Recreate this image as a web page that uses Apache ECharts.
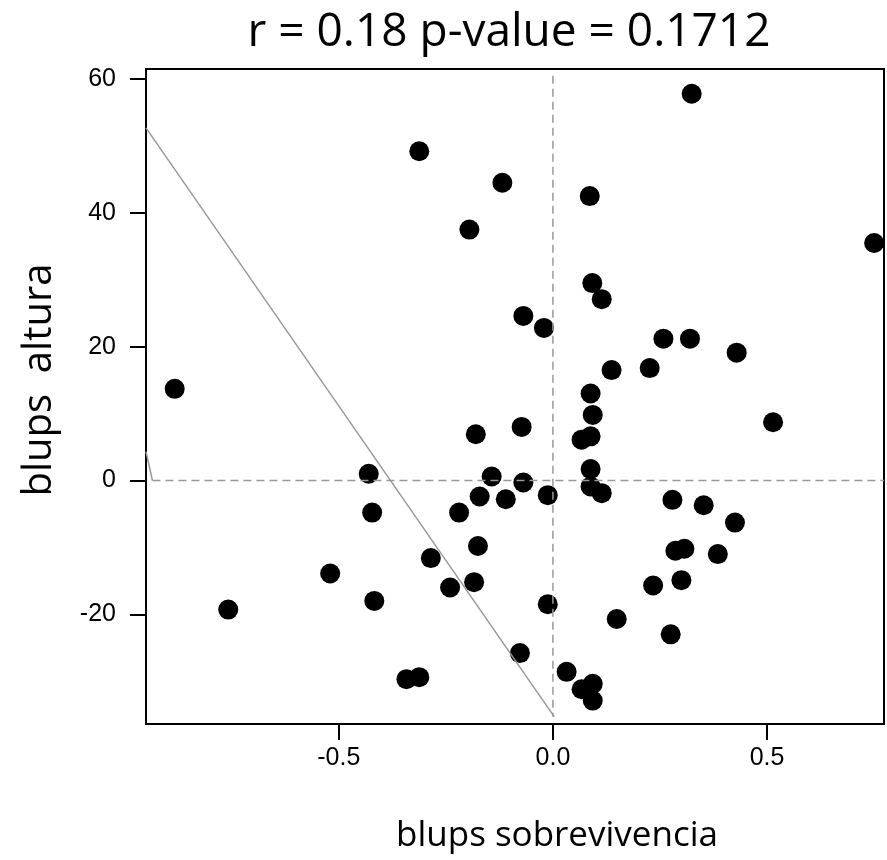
<!DOCTYPE html>
<html>
<head>
<meta charset="utf-8">
<script src="https://cdn.jsdelivr.net/npm/echarts@6/dist/echarts.min.js"></script>
<style>
  html, body { margin: 0; padding: 0; background: #fff; }
  #chart { width: 887px; height: 860px; }
</style>
</head>
<body>
<div id="chart"></div>
<script>
// blups sobrevivencia (x) vs blups altura (y)
const sobrevivencia = [
  -0.312, -0.118, -0.195, -0.069, -0.021, -0.883, 0.086, 0.324, 0.750, 0.092,
  0.114, 0.258, 0.320, 0.429, 0.137, 0.226, 0.088, 0.093, -0.073, 0.514,
  0.067, 0.088, 0.088, -0.069, -0.110, -0.012, 0.088, 0.114, 0.279, 0.352,
  0.425, 0.286, 0.307, 0.385, 0.234, 0.300, -0.012, 0.149, 0.275, -0.077,
  0.032, 0.067, 0.093, 0.093, -0.180, -0.430, -0.143, -0.171, -0.422, -0.219,
  -0.175, -0.285, -0.520, -0.184, -0.240, -0.417, -0.758, -0.342, -0.312
];
const altura = [
  49.2, 44.5, 37.5, 24.6, 22.8, 13.7, 42.5, 57.8, 35.5, 29.5,
  27.1, 21.2, 21.2, 19.1, 16.5, 16.8, 13.0, 9.8, 8.0, 8.7,
  6.1, 6.6, 1.7, -0.3, -2.8, -2.2, -0.9, -1.9, -2.9, -3.7,
  -6.3, -10.5, -10.2, -11.0, -15.7, -14.9, -18.5, -20.7, -23.0, -25.8,
  -28.6, -31.2, -30.4, -32.9, 6.9, 1.0, 0.6, -2.4, -4.8, -4.8,
  -9.8, -11.6, -13.9, -15.2, -16.0, -18.0, -19.3, -29.7, -29.4
];

const xTicks = [-0.5, 0.0, 0.5];
const yTicks = [-20, 0, 20, 40, 60];

// grey reference lines (data space)
const trendX = [-0.95, 0.003];
const trendY = [52.7, -35.3];
const stubX = [-0.95, -0.935];
const stubY = [4.3, 0];
const hRefX = [-0.935, 0.773];
const hRefY = [0, 0];
const vRefX = [0, 0];
const vRefY = [60.5, -35.3];

const pairs = (a, b) => a.map((v, i) => [v, b[i]]);

const chart = echarts.init(document.getElementById('chart'));

const labelFont = 'Liberation Sans, Arial, sans-serif';
const textFont = 'Open Sans, Noto Sans, sans-serif';

chart.setOption({
  animation: false,
  backgroundColor: '#fff',
  grid: {
    left: 146, top: 69, width: 738, height: 655,
    show: true, borderColor: '#000', borderWidth: 2, backgroundColor: 'transparent'
  },
  xAxis: {
    type: 'value', min: -0.95, max: 0.773,
    splitLine: { show: false },
    axisLine: { show: false, onZero: false },
    axisTick: { show: true, inside: false, length: 16, customValues: xTicks,
      lineStyle: { color: '#000', width: 2 } },
    axisLabel: { customValues: xTicks, margin: 22, fontSize: 25,
      fontFamily: labelFont, color: '#000',
      formatter: v => v.toFixed(1) }
  },
  yAxis: {
    type: 'value', min: -36.4, max: 61.5,
    splitLine: { show: false },
    axisLine: { show: false, onZero: false },
    axisTick: { show: true, inside: false, length: 16, customValues: yTicks,
      lineStyle: { color: '#000', width: 2 } },
    axisLabel: { customValues: yTicks, margin: 30, fontSize: 25,
      fontFamily: labelFont, color: '#000' }
  },
  graphic: [
    { type: 'text', x: 509, y: 33,
      style: { text: 'r = 0.18 p-value = 0.1712', fill: '#000',
        font: '46px ' + textFont, textAlign: 'center', textVerticalAlign: 'middle' } },
    { type: 'text', x: 557, y: 836,
      style: { text: 'blups sobrevivencia', fill: '#000',
        font: '35px ' + textFont, textAlign: 'center', textVerticalAlign: 'middle' } },
    { type: 'text', x: 40, y: 380, rotation: Math.PI / 2,
      style: { text: 'blups  altura', fill: '#000',
        font: '40px ' + textFont, textAlign: 'center', textVerticalAlign: 'middle' } }
  ],
  series: [
    { type: 'line', data: pairs(vRefX, vRefY), symbol: 'none', silent: true,
      lineStyle: { color: '#999', width: 1.5, type: [8, 5] } },
    { type: 'line', data: pairs(hRefX, hRefY), symbol: 'none', silent: true,
      lineStyle: { color: '#999', width: 1.5, type: [8, 5] } },
    { type: 'line', data: pairs(trendX, trendY), symbol: 'none', silent: true,
      lineStyle: { color: '#999', width: 1.5 } },
    { type: 'line', data: pairs(stubX, stubY), symbol: 'none', silent: true,
      lineStyle: { color: '#999', width: 1.5 } },
    { type: 'scatter', data: pairs(sobrevivencia, altura), symbolSize: 20,
      itemStyle: { color: '#000', opacity: 1 } }
  ]
});
</script>
</body>
</html>
